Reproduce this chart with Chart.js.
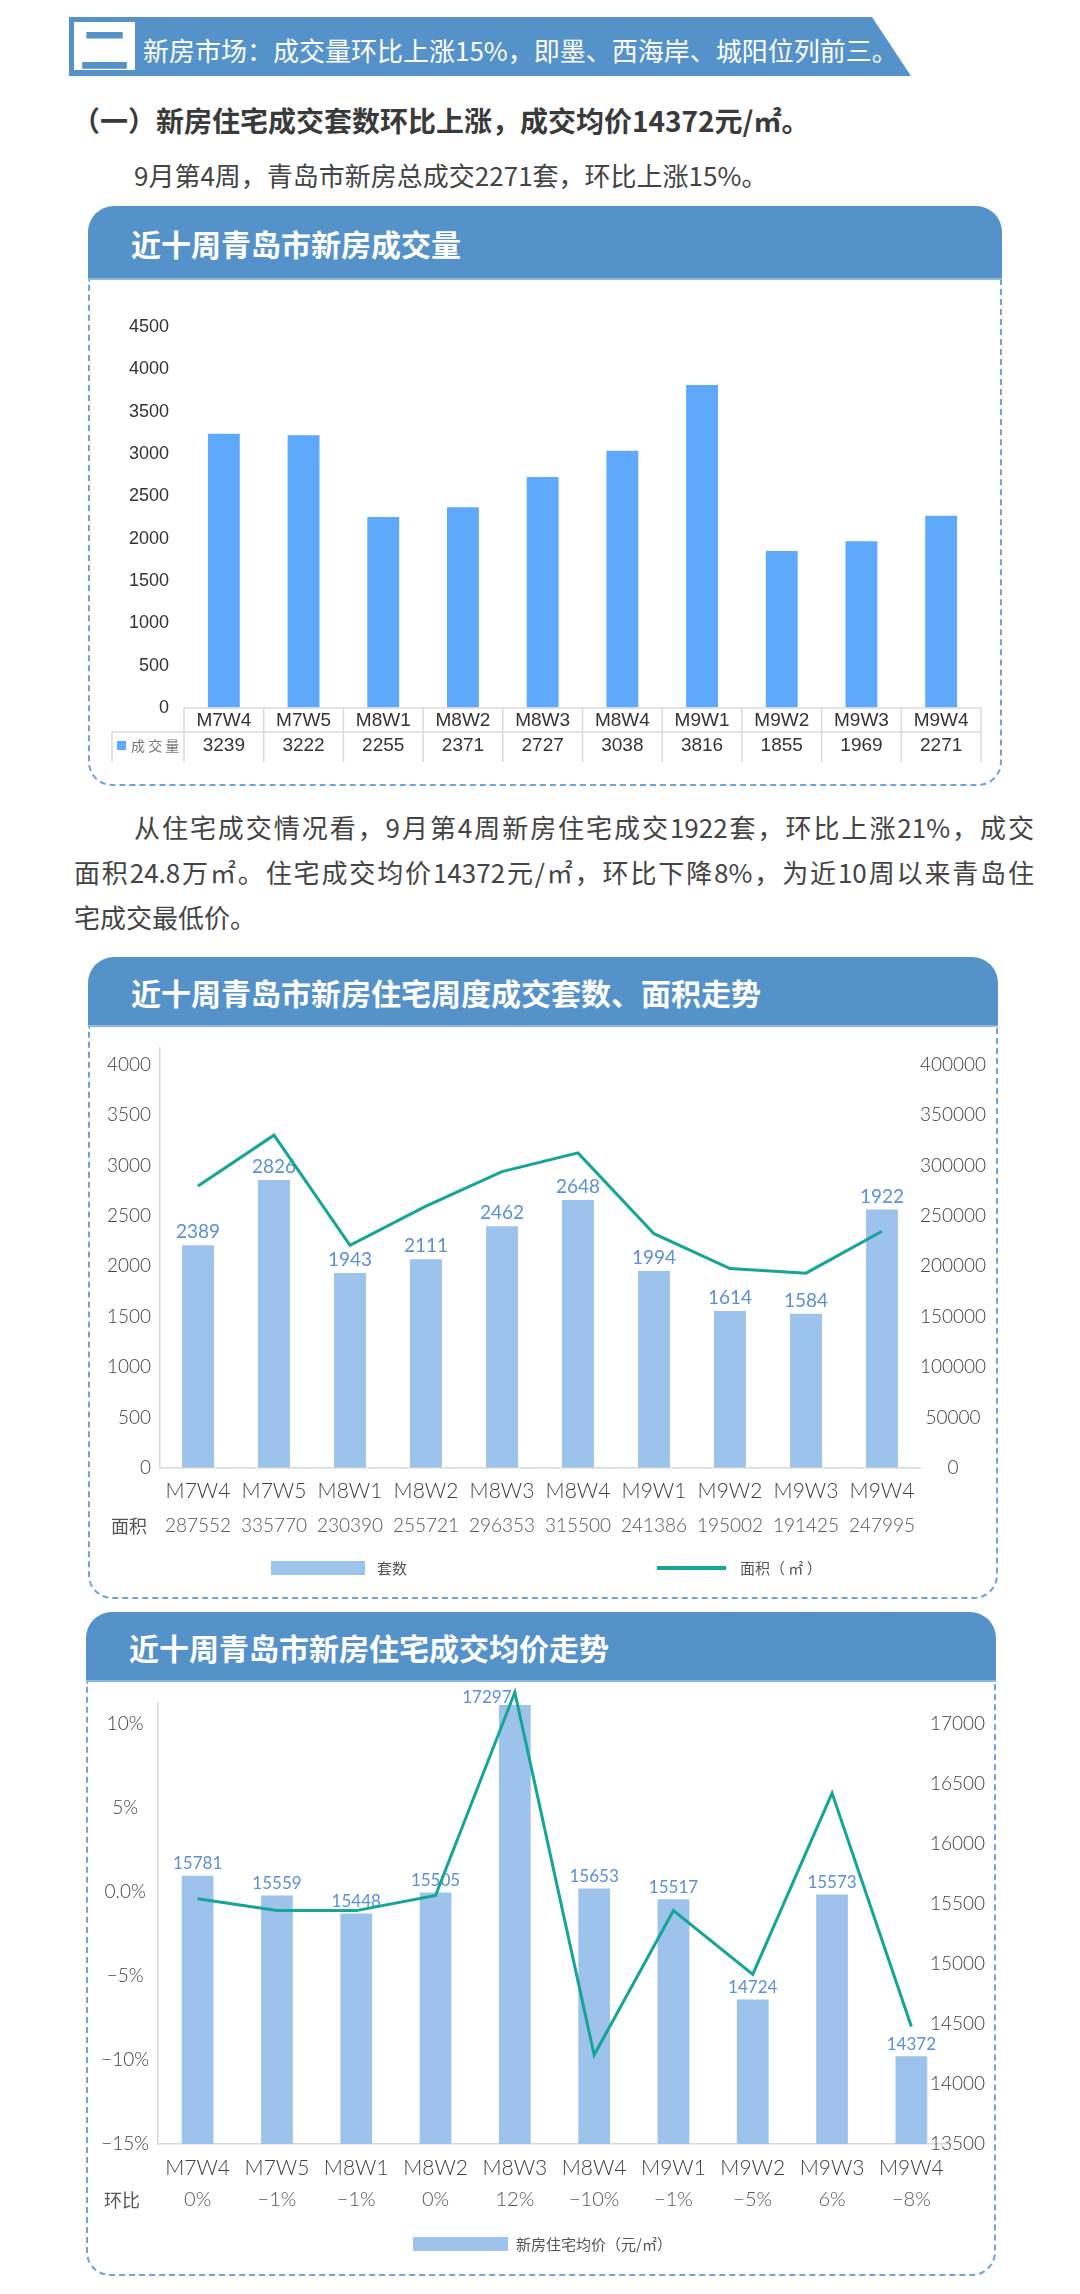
<!DOCTYPE html>
<html>
<head>
<meta charset="utf-8">
<script src="https://cdn.jsdelivr.net/npm/chart.js@4.4.0/dist/chart.umd.min.js"></script>
<style>
  body { margin: 0; width: 1080px; height: 2294px; background: #fff; position: relative; overflow: hidden;
         font-family: "Noto Sans CJK SC", sans-serif; }
  .abs { position: absolute; }
  .banner { left: 69px; top: 17px; width: 842px; height: 59px; background: #5592ca;
            clip-path: polygon(0 0, 803px 0, 842px 59px, 0 59px); }
  .num { left: 74px; top: 22px; width: 61px; height: 48px; background: #fff; color: #5592ca;
         font: bold 50px/48px "Noto Sans CJK SC"; text-align: center; }
  .btext { left: 143px; top: 28px; color: #fff; font-size: 26px; line-height: 44px; white-space: nowrap; }
  .h2 { left: 72px; top: 100px; color: #3a3a3a; font-size: 28px; font-weight: bold; line-height: 40px; white-space: nowrap; }
  .p1 { left: 134px; top: 155px; color: #444; font-size: 26px; line-height: 40px; white-space: nowrap; }
  .p2 { left: 74px; top: 804px; width: 960px; color: #444; font-size: 26px; line-height: 45px; }
  .p2 .j { text-align: justify; text-align-last: justify; }
  .hdr { background: #5592ca; border-radius: 26px 26px 0 0; color: #fff; font-size: 30px; font-weight: bold;
         box-sizing: border-box; padding-left: 43px; border-bottom: 2px solid #8db8e4; }
  .card { border: 2px dashed #6fa3da; border-top: 0; border-radius: 0 0 24px 24px; box-sizing: border-box; }
</style>
</head>
<body>
<div class="abs banner"></div>
<div class="abs num">二</div>
<div class="abs btext">新房市场：成交量环比上涨15%，即墨、西海岸、城阳位列前三。</div>
<div class="abs h2">（一）新房住宅成交套数环比上涨，成交均价14372元/㎡。</div>
<div class="abs p1">9月第4周，青岛市新房总成交2271套，环比上涨15%。</div>

<div class="abs hdr" style="left:88px;top:206px;width:914px;height:74px;line-height:74px;">近十周青岛市新房成交量</div>
<div class="abs card" style="left:88px;top:280px;width:914px;height:506px;"></div>
<canvas id="c1" class="abs" style="left:88px;top:280px;" width="911" height="505"></canvas>

<div class="abs p2">
  <div class="j" style="text-indent:60px;">从住宅成交情况看，9月第4周新房住宅成交1922套，环比上涨21%，成交</div>
  <div class="j">面积24.8万㎡。住宅成交均价14372元/㎡，环比下降8%，为近10周以来青岛住</div>
  <div>宅成交最低价。</div>
</div>

<div class="abs hdr" style="left:88px;top:957px;width:910px;height:70px;line-height:70px;">近十周青岛市新房住宅周度成交套数、面积走势</div>
<div class="abs card" style="left:88px;top:1027px;width:910px;height:572px;"></div>
<canvas id="c2" class="abs" style="left:88px;top:1027px;" width="911" height="571"></canvas>

<div class="abs hdr" style="left:86px;top:1612px;width:910px;height:70px;line-height:70px;">近十周青岛市新房住宅成交均价走势</div>
<div class="abs card" style="left:86px;top:1682px;width:910px;height:594px;"></div>
<canvas id="c3" class="abs" style="left:86px;top:1682px;" width="911" height="593"></canvas>

<script>
// 周次
const weeks = ['M7W4', 'M7W5', 'M8W1', 'M8W2', 'M8W3', 'M8W4', 'M9W1', 'M9W2', 'M9W3', 'M9W4'];

// 图1 新房成交量
const dealVolume = [3239, 3222, 2255, 2371, 2727, 3038, 3816, 1855, 1969, 2271];
const dealTicks = [0, 500, 1000, 1500, 2000, 2500, 3000, 3500, 4000, 4500];

// 图2 住宅套数（柱高按图读取）与面积
const unitBars = [2208, 2856, 1933, 2069, 2397, 2657, 1953, 1557, 1530, 2562];
const unitLabels = ['2389', '2826', '1943', '2111', '2462', '2648', '1994', '1614', '1584', '1922'];
const areaLine = [279500, 330000, 220800, 259600, 293800, 312400, 232300, 197700, 193200, 234700];
const areaTable = ['287552', '335770', '230390', '255721', '296353', '315500', '241386', '195002', '191425', '247995'];
const unitTicks = [0, 500, 1000, 1500, 2000, 2500, 3000, 3500, 4000];
const areaTicks = [0, 50000, 100000, 150000, 200000, 250000, 300000, 350000, 400000];

// 图3 住宅均价与环比
const priceBars = [15737, 15573, 15422, 15598, 17161, 15631, 15540, 14705, 15580, 14232];
const priceLabels = ['15781', '15559', '15448', '15505', '17297', '15653', '15517', '14724', '15573', '14372'];
const momLine = [-0.4, -1.1, -1.1, -0.2, 11.9, -9.7, -1.1, -4.9, 5.9, -8.0];
const momTable = ['0%', '−1%', '−1%', '0%', '12%', '−10%', '−1%', '−5%', '6%', '−8%'];
const pctTicks = [-15, -10, -5, 0, 5, 10];
const pctTickText = ['−15%', '−10%', '−5%', '0.0%', '5%', '10%'];
const priceTicks = [13500, 14000, 14500, 15000, 15500, 16000, 16500, 17000];

const barBlue = '#5fa9fd';
const softBlue = '#9dc3ec';
const labelBlue = '#5b8fd6';
const teal = '#14a596';
const lightFont = 'Lato';
const cjk = '"Noto Sans CJK SC"';

function fixedTicks(list) {
    return scale => { scale.ticks = list.map(v => ({ value: v })); };
}
function noGrid() {
    return { display: true, drawOnChartArea: false, drawTicks: false, tickLength: 0 };
}
const plain = v => String(v);

// 图1 下方数据表
const dealTable = {
    id: 'dealTable',
    afterDraw(chart) {
        const { ctx, chartArea: a, scales: { x } } = chart;
        const half = (x.getPixelForValue(1) - x.getPixelForValue(0)) / 2;
        const legendLeft = 24;
        ctx.save();
        ctx.strokeStyle = '#dadada';
        ctx.lineWidth = 1.5;
        ctx.beginPath();
        ctx.moveTo(a.left, a.bottom); ctx.lineTo(a.right, a.bottom);
        ctx.moveTo(legendLeft, a.bottom + 24); ctx.lineTo(a.right, a.bottom + 24);
        for (let i = 0; i <= weeks.length; i++) {
            const px = x.getPixelForValue(i) - half;
            ctx.moveTo(px, a.bottom); ctx.lineTo(px, a.bottom + 54);
        }
        ctx.moveTo(legendLeft, a.bottom + 24); ctx.lineTo(legendLeft, a.bottom + 54);
        ctx.stroke();
        ctx.fillStyle = '#333';
        ctx.font = '19px "Liberation Sans"';
        ctx.textAlign = 'center';
        ctx.textBaseline = 'middle';
        dealVolume.forEach((v, i) => ctx.fillText(String(v), x.getPixelForValue(i), a.bottom + 38));
        ctx.fillStyle = barBlue;
        ctx.fillRect(legendLeft + 5, a.bottom + 33, 9, 9);
        ctx.fillStyle = '#777';
        ctx.font = '14px ' + cjk;
        ctx.textAlign = 'left';
        ctx.fillText('成 交 量', legendLeft + 19, a.bottom + 38);
        ctx.restore();
    }
};

new Chart(document.getElementById('c1'), {
    type: 'bar',
    data: {
        labels: weeks,
        datasets: [{
            label: '成交量',
            data: dealVolume,
            backgroundColor: barBlue,
            barPercentage: 0.4,
            categoryPercentage: 1
        }]
    },
    options: {
        responsive: false,
        animation: false,
        layout: { padding: { top: 47, right: 18, left: 0, bottom: 0 } },
        plugins: { legend: { display: false }, tooltip: { enabled: false } },
        scales: {
            x: {
                grid: noGrid(), border: { display: false },
                ticks: { color: '#333', font: { family: 'Liberation Sans', size: 19 }, padding: 1, maxRotation: 0 },
                afterFit: s => { s.height = 77; }
            },
            y: {
                min: 0, max: 4500,
                grid: noGrid(), border: { display: false },
                afterBuildTicks: fixedTicks(dealTicks),
                ticks: { color: '#333', font: { family: 'Liberation Sans', size: 18 }, padding: 15, callback: plain },
                afterFit: s => { s.width = 96; }
            }
        }
    },
    plugins: [dealTable]
});

// 柱顶数值；顶到绘图区上沿时往左让开折线
function barLabels(texts, size, gap) {
    return {
        id: 'barLabels',
        beforeDatasetsDraw(chart) {
            const { ctx, chartArea } = chart;
            const meta = chart.getDatasetMeta(0);
            ctx.save();
            ctx.fillStyle = labelBlue;
            ctx.font = size + 'px ' + lightFont;
            ctx.textAlign = 'center';
            ctx.textBaseline = 'middle';
            meta.data.forEach((el, i) => {
                let y = el.y - gap;
                let x = el.x;
                if (y < chartArea.top + 4) { y = el.y - 7; x -= 28; }
                ctx.fillText(texts[i], x, y);
            });
            ctx.restore();
        }
    };
}

// 图2 面积行与图例
const areaExtras = {
    id: 'areaExtras',
    afterDraw(chart) {
        const { ctx, chartArea: a, scales: { x } } = chart;
        ctx.save();
        ctx.textBaseline = 'middle';
        ctx.fillStyle = '#555';
        ctx.font = '18px ' + cjk;
        ctx.textAlign = 'left';
        ctx.fillText('面积', 23, a.bottom + 58);
        ctx.font = '300 19px ' + lightFont;
        ctx.textAlign = 'center';
        areaTable.forEach((t, i) => ctx.fillText(t, x.getPixelForValue(i), a.bottom + 58));
        ctx.fillStyle = softBlue;
        ctx.fillRect(183, a.bottom + 93, 94, 14);
        ctx.fillStyle = '#555';
        ctx.font = '15px ' + cjk;
        ctx.textAlign = 'left';
        ctx.fillText('套数', 289, a.bottom + 100);
        ctx.strokeStyle = teal;
        ctx.lineWidth = 4;
        ctx.beginPath();
        ctx.moveTo(569, a.bottom + 100); ctx.lineTo(638, a.bottom + 100);
        ctx.stroke();
        ctx.fillText('面积（ ㎡ ）', 652, a.bottom + 100);
        ctx.restore();
    }
};

new Chart(document.getElementById('c2'), {
    data: {
        labels: weeks,
        datasets: [{
            type: 'bar',
            label: '套数',
            data: unitBars,
            backgroundColor: softBlue,
            barPercentage: 0.42,
            categoryPercentage: 1,
            yAxisID: 'y',
            order: 2
        }, {
            type: 'line',
            label: '面积（㎡）',
            data: areaLine,
            borderColor: teal,
            borderWidth: 3,
            pointRadius: 0,
            tension: 0,
            yAxisID: 'y1',
            order: 1
        }]
    },
    options: {
        responsive: false,
        animation: false,
        layout: { padding: { top: 17, right: 0, left: 0, bottom: 0 } },
        plugins: { legend: { display: false }, tooltip: { enabled: false } },
        scales: {
            x: {
                grid: noGrid(),
                border: { display: true, color: '#d8d8d8', width: 1.5, dash: [6, 4] },
                ticks: { color: '#404040', font: { family: lightFont, weight: 300, size: 21 }, padding: 11, maxRotation: 0 },
                afterFit: s => { s.height = 130; }
            },
            y: {
                position: 'left', min: 0, max: 4170,
                grid: noGrid(),
                border: { display: true, color: '#d8d8d8', width: 1.5, dash: [6, 4] },
                afterBuildTicks: fixedTicks(unitTicks),
                ticks: { color: '#404040', font: { family: lightFont, weight: 300, size: 19 }, padding: 9, callback: plain },
                afterFit: s => { s.width = 72; }
            },
            y1: {
                position: 'right', min: 0, max: 417000,
                grid: noGrid(), border: { display: false },
                afterBuildTicks: fixedTicks(areaTicks),
                ticks: { color: '#404040', font: { family: lightFont, weight: 300, size: 19 }, padding: 0, crossAlign: 'center', callback: plain },
                afterFit: s => { s.width = 79; }
            }
        }
    },
    plugins: [barLabels(unitLabels, 19, 13), areaExtras]
});

// 图3 环比行与图例
const momExtras = {
    id: 'momExtras',
    afterDraw(chart) {
        const { ctx, chartArea: a, scales: { x } } = chart;
        ctx.save();
        ctx.textBaseline = 'middle';
        ctx.fillStyle = '#555';
        ctx.font = '18px ' + cjk;
        ctx.textAlign = 'left';
        ctx.fillText('环比', 18, a.bottom + 56);
        ctx.font = '300 20px ' + lightFont;
        ctx.textAlign = 'center';
        momTable.forEach((t, i) => ctx.fillText(t, x.getPixelForValue(i), a.bottom + 56));
        ctx.fillStyle = softBlue;
        ctx.fillRect(327, a.bottom + 93, 95, 14);
        ctx.fillStyle = '#555';
        ctx.font = '15px ' + cjk;
        ctx.textAlign = 'left';
        ctx.fillText('新房住宅均价（元/㎡）', 430, a.bottom + 100);
        ctx.restore();
    }
};

new Chart(document.getElementById('c3'), {
    data: {
        labels: weeks,
        datasets: [{
            type: 'bar',
            label: '新房住宅均价（元/㎡）',
            data: priceBars,
            backgroundColor: softBlue,
            barPercentage: 0.4,
            categoryPercentage: 1,
            yAxisID: 'y1',
            order: 2
        }, {
            type: 'line',
            label: '环比',
            data: momLine,
            borderColor: teal,
            borderWidth: 3,
            pointRadius: 0,
            tension: 0,
            clip: false,
            yAxisID: 'y',
            order: 1
        }]
    },
    options: {
        responsive: false,
        animation: false,
        layout: { padding: { top: 16, right: 12, left: 0, bottom: 0 } },
        plugins: { legend: { display: false }, tooltip: { enabled: false } },
        scales: {
            x: {
                grid: noGrid(),
                border: { display: true, color: '#d8d8d8', width: 1.5, dash: [6, 4] },
                ticks: { color: '#404040', font: { family: lightFont, weight: 300, size: 21 }, padding: 12, maxRotation: 0 },
                afterFit: s => { s.height = 131; }
            },
            y: {
                position: 'left', min: -15, max: 11.3,
                grid: noGrid(),
                border: { display: true, color: '#d8d8d8', width: 1.5, dash: [6, 4] },
                afterBuildTicks: fixedTicks(pctTicks),
                ticks: {
                    color: '#404040', font: { family: lightFont, weight: 300, size: 19 }, padding: 9, crossAlign: 'center',
                    callback: v => pctTickText[pctTicks.indexOf(v)]
                },
                afterFit: s => { s.width = 72; }
            },
            y1: {
                position: 'right', min: 13500, max: 17182,
                grid: noGrid(), border: { display: false },
                afterBuildTicks: fixedTicks(priceTicks),
                // mirror 让刻度文字不被坐标轴区域裁掉，右对齐到 padding 处
                ticks: { color: '#404040', font: { family: lightFont, weight: 300, size: 19 }, mirror: true, padding: 34, callback: plain },
                afterFit: s => { s.width = 34; s.paddingTop = 0; s.paddingBottom = 0; }
            }
        }
    },
    plugins: [barLabels(priceLabels, 17, 12), momExtras]
});
</script>
</body>
</html>
